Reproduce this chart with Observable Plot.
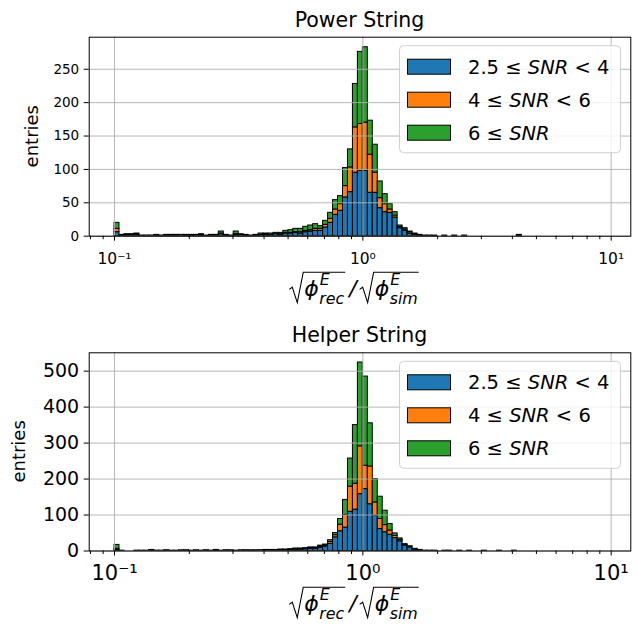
<!DOCTYPE html>
<html><head><meta charset="utf-8">
<script src="https://cdn.jsdelivr.net/npm/d3@7"></script>
<script src="https://cdn.jsdelivr.net/npm/@observablehq/plot@0.6"></script>
<style>
body{margin:0;background:#fff;font-family:"DejaVu Sans",sans-serif;}
#wrap{position:relative;width:638px;height:628px;background:#fff;}
#wrap svg{display:block;overflow:visible;}
</style></head><body><div id="wrap"></div>
<script>
// ---- data ----
const binCount = 100, logMin = -1, logMax = 1;
const seriesNames = ["2.5 ≤ SNR < 4", "4 ≤ SNR < 6", "6 ≤ SNR"];
const seriesColors = ["#1f77b4", "#ff7f0e", "#2ca02c"];
const powerTitle = "Power String";
const helperTitle = "Helper String";
const yLabel = "entries";
const yTicksPower = [0, 50, 100, 150, 200, 250];
const yTicksHelper = [0, 100, 200, 300, 400, 500];
const xTicksMajor = [0.1, 1, 10];
const xTickLabels = ["10⁻¹", "10⁰", "10¹"];
const xTicksMinor = [0.08, 0.09, 0.2, 0.3, 0.4, 0.5, 0.6, 0.7, 0.8, 0.9, 2, 3, 4, 5, 6, 7, 8, 9];

const powerBlue = [6,1,1,2,2,1,0,1,1,1, 1,1,1,2,1,1,1,1,1,1, 1,3,1,1,2,2,1,1,1,2, 2,2,3,2,4,4,5,4,6,7,
  8,8,13,20,32,38,58,66,95,98, 98,65,65,42,36,35,28,12,8,4, 2,1,1,1,1,0,1,0,1,0, 1,0,0,0,0,0,0,0,0,0,
  0,1,0,0,0,0,0,0,0,0, 0,0,0,0,0,0,0,0,0,0];
const powerOrange = [5,0,1,0,1,0,0,0,0,0, 0,1,0,0,0,1,0,1,0,1, 0,1,1,0,1,0,0,0,0,0, 1,0,0,1,1,1,1,2,2,2,
  3,3,4,6,8,10,17,37,68,70, 72,57,30,15,12,5,3,2,2,2, 1,1,0,0,0,0,0,0,0,0, 0,0,0,0,0,0,0,0,0,0,
  0,0,0,0,0,0,0,0,0,0, 0,0,0,0,0,0,0,0,0,0];
const powerGreen = [9,1,1,1,1,0,1,0,1,0, 1,0,1,0,1,0,1,1,0,0, 1,3,0,0,4,1,1,0,1,2, 1,2,2,2,3,4,5,5,6,7,
  7,4,6,9,14,12,27,27,65,108, 113,51,42,25,15,8,5,2,2,1, 1,0,0,0,0,0,0,0,0,0, 0,0,0,0,0,0,0,0,0,0,
  0,1,0,0,0,0,0,0,0,0, 0,0,0,0,0,0,0,0,0,0];

const helperBlue = [3,0,0,0,0,1,1,2,1,1, 1,1,1,2,1,1,2,1,1,1, 2,1,1,2,1,2,1,2,2,1, 2,2,3,2,3,3,4,4,5,6,
  6,9,12,20,38,55,65,109,115,158, 172,130,98,61,52,45,36,27,15,10, 4,2,1,1,1,0,1,1,0,1, 0,1,0,0,1,0,0,1,0,0,
  1,0,0,0,0,0,0,0,0,0, 0,0,0,0,0,0,0,0,0,0];
const helperOrange = [3,0,0,0,0,0,0,0,0,0, 0,0,0,0,0,0,0,0,0,0, 1,0,0,0,0,0,0,0,0,0, 1,0,0,1,0,1,1,1,1,2,
  2,3,3,5,6,18,35,70,72,133, 65,105,37,28,20,12,6,4,2,2, 1,1,0,0,0,0,0,0,0,0, 0,0,0,0,0,0,0,0,0,0,
  0,0,0,0,0,0,0,0,0,0, 0,0,0,0,0,0,0,0,0,0];
const helperGreen = [11,1,0,0,1,0,0,1,0,0, 1,0,0,0,1,0,0,0,1,0, 0,0,1,0,0,0,1,0,0,1, 0,1,0,1,1,1,2,2,2,2,
  2,3,3,5,6,16,42,78,163,233, 248,120,65,62,40,18,7,4,2,1, 1,0,0,0,0,0,0,0,0,0, 0,0,0,0,0,0,0,0,0,0,
  0,0,0,0,0,0,0,0,0,0, 0,0,0,0,0,0,0,0,0,0];

// ---- build ----
function rows(blue, orange, green) {
  const out = [];
  for (let k = 0; k < binCount; k++) {
    const lo = 10 ** (logMin + (logMax - logMin) * k / binCount);
    const hi = 10 ** (logMin + (logMax - logMin) * (k + 1) / binCount);
    [blue, orange, green].forEach((arr, s) => out.push({lo, hi, series: seriesNames[s], count: arr[k]}));
  }
  return out;
}

const W = 638;
const xDomain = [10 ** -1.102, 10 ** 1.079];
const FONT = "DejaVu Sans";

function panel(o) {
  const data = rows(o.blue, o.orange, o.green);
  return Plot.plot({
    width: W, height: o.height,
    marginLeft: 88.7, marginRight: 7.7, marginTop: o.marginTop, marginBottom: o.marginBottom,
    style: {fontFamily: FONT, background: "white", color: "black", overflow: "visible"},
    x: {type: "log", domain: xDomain},
    y: {domain: [0, o.yMax]},
    color: {domain: seriesNames, range: seriesColors},
    marks: [
      Plot.rectY(data, {x1: "lo", x2: "hi", y: "count", fill: "series", stroke: "black", strokeWidth: 1, inset: 0}),
      Plot.gridX(xTicksMajor, {stroke: "#b0b0b0", strokeOpacity: 1, strokeWidth: 0.9}),
      Plot.gridY(o.yTicks, {stroke: "#b0b0b0", strokeOpacity: 1, strokeWidth: 0.9}),
      Plot.axisY(o.yTicks, {tickSize: 5, tickPadding: 5, fontSize: o.yFont, label: null, tickFormat: d => String(d)}),
      Plot.axisX(xTicksMajor, {tickSize: 5, tickPadding: o.xPad, fontSize: o.xFont, label: null,
        tickFormat: d => xTickLabels[xTicksMajor.indexOf(d)]}),
      Plot.axisX(xTicksMinor, {tickSize: 3.5, label: null, tickFormat: () => ""}),
      Plot.frame({stroke: "black", strokeWidth: 1})
    ]
  });
}

function decorate(svg, o) {
  const s = d3.select(svg);
  // title
  s.append("text").attr("x", (88.7 + W - 7.7) / 2).attr("y", o.titleY).attr("text-anchor", "middle")
    .attr("font-family", FONT).attr("font-size", 20.5).attr("fill", "black").text(o.title);
  // y label
  s.append("text").attr("transform", `translate(${o.yLabelX},${(o.marginTop + o.height - o.marginBottom) / 2}) rotate(-90)`)
    .attr("text-anchor", "middle").attr("dominant-baseline", "middle")
    .attr("font-family", FONT).attr("font-size", 18).attr("fill", "black").text(yLabel);
  // legend
  const lg = s.append("g").attr("text-anchor", "start");
  const top = o.marginTop + 9;
  lg.append("rect").attr("x", 399.5).attr("y", top).attr("width", 221).attr("height", 107).attr("rx", 4)
    .attr("fill", "white").attr("fill-opacity", 0.8).attr("stroke", "#d0d0d0");
  seriesNames.forEach((name, i) => {
    const cy = top + 21 + i * 33;
    lg.append("rect").attr("x", 407.5).attr("y", cy - 7.5).attr("width", 43).attr("height", 15)
      .attr("fill", seriesColors[i]).attr("stroke", "black").attr("stroke-width", 1);
    const t = lg.append("text").attr("x", 468).attr("y", cy + 7).attr("text-anchor", "start")
      .attr("font-family", FONT).attr("font-size", 19.5).attr("fill", "black");
    const parts = name.split("SNR");
    t.append("tspan").text(parts[0]);
    t.append("tspan").attr("font-style", "italic").text("SNR");
    if (parts[1]) t.append("tspan").text(parts[1]);
  });
  // x label (math)
  mathLabel(svg, (88.7 + W - 7.7) / 2 - 4, o.xLabelY, 22);
}

function mathLabel(svg, cx, baseline, size) {
  const g = d3.select(svg).append("g").attr("font-family", FONT).attr("fill", "black").attr("text-anchor", "start");
  const sub = size * 0.72;
  let x = 0;
  function radical(x0, w) {
    const p = `M${x0},${-size*0.3} L${x0+3},${-size*0.4} L${x0+8},${size*0.3} L${x0+14},${-size*1.08} H${x0+14+w+2}`;
    g.append("path").attr("d", p).attr("fill", "none").attr("stroke", "black").attr("stroke-width", 1.1);
  }
  function phiTerm(x0, subText) {
    const t = g.append("text").attr("x", x0).attr("y", 0).attr("font-size", size).attr("font-style", "italic").text("ϕ");
    const w = t.node().getComputedTextLength();
    const e = g.append("text").attr("x", x0 + w + 1).attr("y", -size * 0.5).attr("font-size", sub).attr("font-style", "italic").text("E");
    const sb = g.append("text").attr("x", x0 + w + 0.5).attr("y", size * 0.38).attr("font-size", sub).attr("font-style", "italic").text(subText);
    return w + Math.max(e.node().getComputedTextLength() + 1, sb.node().getComputedTextLength() + 0.5);
  }
  function term(subText) {
    const x0 = x;
    const w = phiTerm(x0 + 15, subText);
    radical(x0, w);
    x = x0 + 15 + w + 4;
  }
  term("rec");
  const sl = g.append("text").attr("x", x + 1).attr("y", 0).attr("font-size", size).attr("font-style", "italic").text("/");
  x += sl.node().getComputedTextLength() + 4;
  term("sim");
  g.attr("transform", `translate(${cx - x / 2},${baseline})`);
}

const wrap = document.getElementById("wrap");
const topOpts = {title: powerTitle, blue: powerBlue, orange: powerOrange, green: powerGreen,
  yTicks: yTicksPower, yMax: 298, height: 314, marginTop: 36.7, marginBottom: 78.3,
  yFont: 13.5, xFont: 15.5, xPad: 12, titleY: 27, yLabelX: 33, xLabelY: 296};
const botOpts = {title: helperTitle, blue: helperBlue, orange: helperOrange, green: helperGreen,
  yTicks: yTicksHelper, yMax: 551, height: 314, marginTop: 38.3, marginBottom: 77.5,
  yFont: 19, xFont: 21, xPad: 9, titleY: 28, yLabelX: 20, xLabelY: 297};
const s1 = panel(topOpts); wrap.appendChild(s1); decorate(s1, topOpts);
const s2 = panel(botOpts); wrap.appendChild(s2); decorate(s2, botOpts);
</script></body></html>
